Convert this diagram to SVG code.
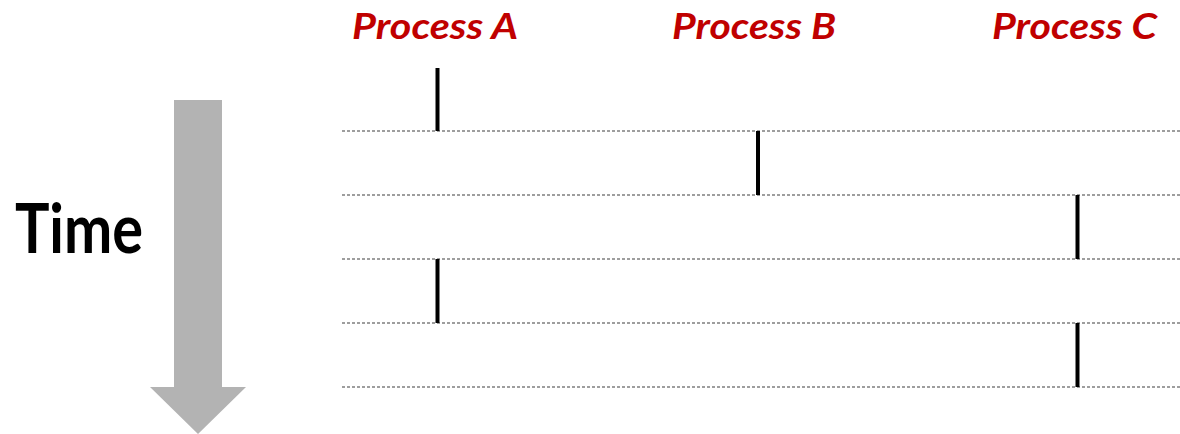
<svg xmlns="http://www.w3.org/2000/svg" width="1180" height="434" viewBox="0 0 1180 434">
<style>
.proc{font-family:Lato,"Open Sans","Liberation Sans",sans-serif;font-weight:bold;font-style:italic;font-size:36px;fill:#C00000}
.time{font-family:Lato,"Open Sans","Liberation Sans",sans-serif;font-weight:bold;font-size:68px;fill:#000}
.dash{stroke:#7F7F7F;stroke-width:1.5;stroke-dasharray:3 2;fill:none}
.bar{stroke:#000;stroke-width:4;fill:none}
</style>
<rect width="1180" height="434" fill="#fff"/>
<g id="time-arrow">
<path d="M174 100 H222 V387 H246 L198 434 L150 387 H174 Z" fill="#B3B3B3"/>
</g>
<g id="time-label"><text class="time" x="15" y="253" textLength="128" lengthAdjust="spacingAndGlyphs">Time</text></g>
<g id="process-a-label"><text class="proc" x="352" y="39" textLength="166" lengthAdjust="spacingAndGlyphs">Process A</text></g>
<g id="process-b-label"><text class="proc" x="672" y="39" textLength="164" lengthAdjust="spacingAndGlyphs">Process B</text></g>
<g id="process-c-label"><text class="proc" x="992" y="39" textLength="165" lengthAdjust="spacingAndGlyphs">Process C</text></g>
<g id="timelines">
<line class="dash" x1="342" y1="131" x2="1180" y2="131"/>
<line class="dash" x1="342" y1="195" x2="1180" y2="195"/>
<line class="dash" x1="342" y1="259" x2="1180" y2="259"/>
<line class="dash" x1="342" y1="323" x2="1180" y2="323"/>
<line class="dash" x1="342" y1="387" x2="1180" y2="387"/>
</g>
<g id="slices">
<line class="bar" x1="437.5" y1="68" x2="437.5" y2="131"/>
<line class="bar" x1="758" y1="131" x2="758" y2="195"/>
<line class="bar" x1="1077.5" y1="195" x2="1077.5" y2="259"/>
<line class="bar" x1="437.5" y1="259" x2="437.5" y2="323"/>
<line class="bar" x1="1077.5" y1="323" x2="1077.5" y2="387"/>
</g>
</svg>
